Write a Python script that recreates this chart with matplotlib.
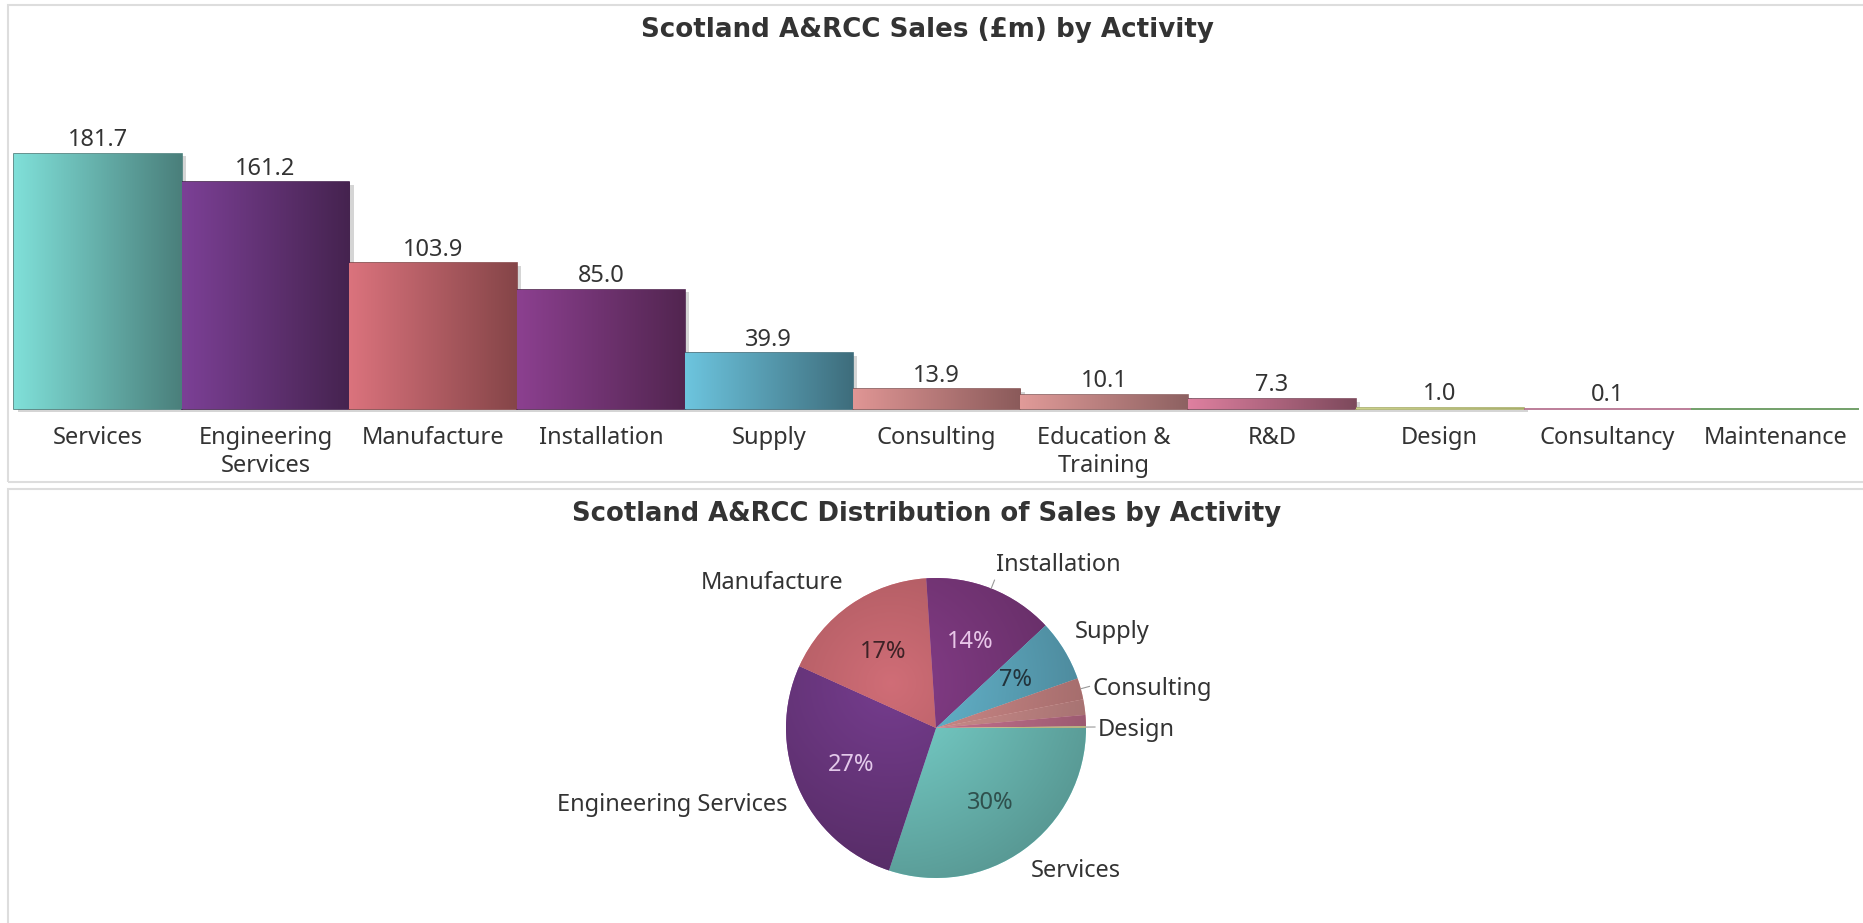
import numpy as np
import matplotlib.pyplot as plt
import matplotlib.patheffects as pe
from matplotlib.colors import to_rgb
from matplotlib.patches import Rectangle

plt.rcParams['font.family'] = ['Noto Sans', 'DejaVu Sans']

# sales by activity, £m
activities = ['Services', 'Engineering\nServices', 'Manufacture', 'Installation', 'Supply',
              'Consulting', 'Education &\nTraining', 'R&D', 'Design', 'Consultancy', 'Maintenance']
sales = [181.7, 161.2, 103.9, 85.0, 39.9, 13.9, 10.1, 7.3, 1.0, 0.1, 0.0]
value_labels = ['181.7', '161.2', '103.9', '85.0', '39.9', '13.9', '10.1', '7.3', '1.0', '0.1', '']

# only the bigger slices get a name on the pie
pie_labels = ['Services', 'Engineering Services', 'Manufacture', 'Installation', 'Supply',
              'Consulting', '', '', 'Design', '', '']
pct_colors = ['#2f504d', '#e3c9ea', '#3d2226', '#e8c6e8', '#22333b',
              '#333333', '#333333', '#333333', '#333333', '#333333', '#333333']
leaders = ['Installation', 'Consulting', 'Design']

light = ['#80e0d9', '#7c4096', '#db737d', '#8c4090', '#6dc5df', '#e09695',
         '#e19b99', '#df80a0', '#cdd38c', '#d890b0', '#8cc880']
dark = ['#4a7f7b', '#45234f', '#854548', '#522550', '#3e6d7c', '#8a5a5a',
        '#8d6161', '#7d495c', '#a8ae6a', '#b06888', '#5a9050']

txt = '#333333'

fig = plt.figure(figsize=(18.63, 9.23), dpi=100)
W, H = 1863, 923

# panel frames
fig.add_artist(Rectangle((8 / W, 1 - 482 / H), 1.0, 477 / H, transform=fig.transFigure,
                         fill=False, ec='#dddddd', lw=1.5))
fig.add_artist(Rectangle((8 / W, -0.1), 1.0, 1 - 489 / H + 0.1, transform=fig.transFigure,
                         fill=False, ec='#dddddd', lw=1.5))

fig.text(927 / W, 1 - 30 / H, 'Scotland A&RCC Sales (£m) by Activity', ha='center', va='center',
         fontsize=18.8, fontweight='bold', family='DejaVu Sans', color=txt)
fig.text(927 / W, 1 - 514 / H, 'Scotland A&RCC Distribution of Sales by Activity', ha='center',
         va='center', fontsize=18.6, fontweight='bold', family='DejaVu Sans', color=txt)

# ---------- bar chart ----------
ax = fig.add_axes([14 / W, 1 - 409 / H, 1845 / W, 364 / H])
x = np.arange(len(sales))
bars = ax.bar(x, sales, width=1.0, color=dark, edgecolor=dark, linewidth=1.2, zorder=2,
              clip_on=False,
              path_effects=[pe.SimplePatchShadow(offset=(3, -2), shadow_rgbFace='#888888', alpha=0.35),
                            pe.Normal()])
for i, b in enumerate(bars):
    c0, c1 = np.array(to_rgb(light[i])), np.array(to_rgb(dark[i]))
    t = np.linspace(0, 1, 256)[None, :, None]
    grad = c0 + (c1 - c0) * t
    x0 = b.get_x()
    im = ax.imshow(grad, extent=[x0, x0 + b.get_width(), 0, b.get_height()],
                   aspect='auto', zorder=3, interpolation='bilinear')
    im.set_clip_path(b)
    if value_labels[i]:
        ax.annotate(value_labels[i], (b.get_x() + b.get_width() / 2, b.get_height()),
                    xytext=(0, 1), textcoords='offset points', ha='center', va='bottom',
                    fontsize=17, color=txt)

ax.set_xlim(-0.5, len(sales) - 0.5)
ax.set_ylim(0, 259)
ax.set_xticks(x)
ax.set_xticklabels(activities, fontsize=17, color=txt, linespacing=1.25)
ax.tick_params(axis='x', length=0, pad=12)
ax.set_yticks([])
for s in ax.spines.values():
    s.set_visible(False)
ax.patch.set_alpha(0)

# ---------- pie chart ----------
R = 150
ax2 = fig.add_axes([(936 - R) / W, 1 - (728 + R) / H, 2 * R / W, 2 * R / H])
total = sum(sales)


def pct_fmt(p):
    return '%d%%' % round(p) if p >= 5 else ''


wedges, texts, autotexts = ax2.pie(sales, colors=light, startangle=0, counterclock=False,
                                   labels=pie_labels, labeldistance=1.08, autopct=pct_fmt,
                                   pctdistance=0.62, radius=1,
                                   wedgeprops=dict(linewidth=0.4, edgecolor='#ffffff40'),
                                   textprops=dict(fontsize=17, color=txt))
for i, t in enumerate(autotexts):
    t.set_color(pct_colors[i])
# labels sit above the rim on top, below it at the bottom
for t in texts:
    xx, yy = t.get_position()
    if yy > 0.3:
        t.set_va('bottom')
    elif yy < -0.3:
        t.set_va('top')
    else:
        t.set_position((xx, yy - 0.02))

# shade each slice, lighter toward the upper left of the centre
n = 400
gx, gy = np.meshgrid(np.linspace(-1, 1, n), np.linspace(1, -1, n))
dist = np.hypot(gx + 0.3, gy - 0.3)
shade = np.clip(dist / 1.75, 0, 1)[:, :, None]
for i, w in enumerate(wedges):
    c0, c1 = np.array(to_rgb(light[i])), np.array(to_rgb(dark[i]))
    img = c0 * 0.95 + (c1 - c0 * 0.95) * shade * 0.85
    im = ax2.imshow(np.clip(img, 0, 1), extent=[-1, 1, -1, 1], zorder=1.5, interpolation='bilinear')
    im.set_clip_path(w)

# short leader lines from the rim to the label
start = 0.0
for i, v in enumerate(sales):
    frac = v / total
    mid = np.deg2rad(-(start + frac / 2) * 360)
    start += frac
    if pie_labels[i] in leaders:
        ax2.plot([np.cos(mid), 1.06 * np.cos(mid)], [np.sin(mid), 1.06 * np.sin(mid)],
                 color='#999999', lw=0.8, zorder=4, clip_on=False)

ax2.set_xlim(-1, 1)
ax2.set_ylim(-1, 1)
ax2.set_aspect('equal')
ax2.axis('off')

plt.savefig('out.png', dpi=100)
